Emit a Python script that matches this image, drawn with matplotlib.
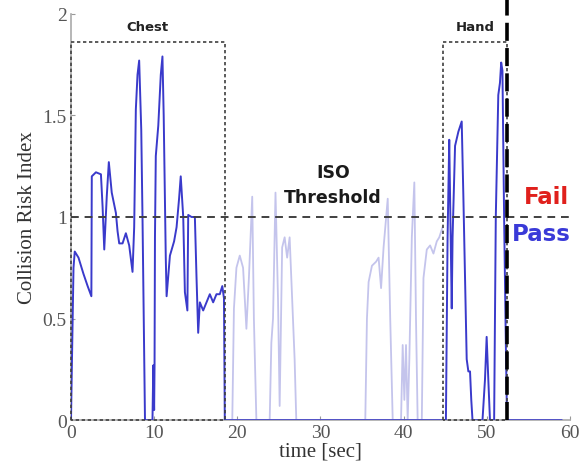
import matplotlib
matplotlib.use("Agg")
import matplotlib.pyplot as plt

# Collision risk index over time (dark: contact phases, light: free motion)
dark_t = [0, 0.15, 0.3, 0.45, 0.9, 1.5, 2.0, 2.45, 2.5, 3.0, 3.6, 3.8, 4.0, 4.3, 4.55, 4.9, 5.4, 5.6,
          5.8, 6.2, 6.6, 7.0, 7.4, 7.6, 7.8, 8.0, 8.2, 8.45, 8.6, 8.9, 9.8, 9.9, 10.0, 10.05, 10.1,
          10.2, 10.5, 10.8, 11.0, 11.15, 11.4, 11.5, 11.9, 12.4, 12.7, 13.0, 13.2, 13.5, 13.7,
          14.0, 14.1, 14.5, 14.9, 15.1, 15.3, 15.5, 15.9, 16.3, 16.7, 17.1, 17.5, 17.9, 18.2,
          18.4, 18.5,
          44.8, 45.1, 45.3, 45.5, 45.6, 45.8, 45.9, 46.2, 46.6, 47.0, 47.2, 47.4, 47.6, 47.8, 48.0,
          48.15, 48.3, 49.5, 49.8, 50.0, 50.2, 50.4, 50.9, 51.1, 51.4, 51.6, 51.75, 51.9, 52.1,
          52.3, 52.45, 59.0]
dark_v = [0, 0.38, 0.75, 0.83, 0.8, 0.72, 0.66, 0.61, 1.2, 1.22, 1.21, 1.05, 0.84, 1.1, 1.27, 1.12,
          1.02, 0.93, 0.87, 0.87, 0.92, 0.86, 0.73, 0.95, 1.53, 1.7, 1.77, 1.43, 1.0, 0, 0, 0.27,
          0.05, 0.27, 0.9, 1.3, 1.45, 1.7, 1.79, 1.5, 0.8, 0.61, 0.81, 0.88, 0.95, 1.09, 1.2, 1.0,
          0.63, 0.54, 1.01, 1.0, 1.0, 0.7, 0.43, 0.58, 0.54, 0.58, 0.62, 0.58, 0.62, 0.62, 0.66,
          0.6, 0,
          0, 0, 0.9, 1.38, 1.1, 0.55, 0.9, 1.35, 1.42, 1.47, 1.1, 0.7, 0.3, 0.24, 0.24, 0.1, 0, 0,
          0.2, 0.41, 0.2, 0, 0, 1.0, 1.6, 1.66, 1.76, 1.72, 1.0, 0.4, 0, 0]

light_t = [18.5, 19.4, 19.6, 19.9, 20.3, 20.7, 21.1, 21.4, 21.8, 22.0, 22.3, 23.9, 24.1, 24.3,
           24.6, 24.9, 25.1, 25.4, 25.7, 26.0, 26.3, 26.6, 26.9, 27.1, 35.4, 35.6, 35.8, 36.2,
           36.7, 37.0, 37.3, 37.6, 38.1, 38.4, 38.7, 39.7, 39.9, 40.1, 40.3, 40.5, 40.7, 41.0,
           41.3, 41.5, 41.7, 42.2, 42.4, 42.8, 43.2, 43.6, 44.0, 44.3, 44.7]
light_v = [0, 0, 0.55, 0.75, 0.81, 0.75, 0.45, 0.7, 1.1, 0.5, 0, 0, 0.38, 0.5, 1.12, 0.6, 0.07,
           0.85, 0.9, 0.8, 0.9, 0.6, 0.3, 0, 0, 0.5, 0.68, 0.76, 0.78, 0.8, 0.65, 0.85, 1.09, 0.5,
           0, 0, 0.37, 0.1, 0.37, 0, 0.3, 0.9, 1.17, 0.5, 0, 0, 0.7, 0.84, 0.86, 0.82, 0.88, 0.9,
           0.95]

threshold = 1.0
regions = [("Chest", 0.0, 18.5), ("Hand", 44.8, 52.4)]
region_top = 1.86
cutoff_t = 52.5
x_ticks = [0, 10, 20, 30, 40, 50, 60]
y_ticks = [0, 0.5, 1, 1.5, 2]
y_tick_labels = ["0", "0.5", "1", "1.5", "2"]

serif = ["Liberation Serif", "DejaVu Serif"]
sans = ["DejaVu Sans"]

fig = plt.figure(figsize=(5.82, 4.77), dpi=100)
ax = fig.add_axes([0.122, 0.117, 0.857, 0.852])

ax.plot(light_t, light_v, color="#c4c4ec", lw=1.3, zorder=2)
ax.plot(dark_t, dark_v, color="#3a3acb", lw=1.4, zorder=3)

# ISO threshold line
ax.axhline(threshold, color="#404040", lw=1.4, ls=(0, (4, 3)), zorder=4)

# Region boxes
for name, t0, t1 in regions:
    ax.plot([t0, t0, t1, t1, t0], [0, region_top, region_top, 0, 0],
            color="#404040", lw=1.2, ls=(0, (2, 1.6)), zorder=4, clip_on=False)
    ax.text((t0 + t1) / 2, 1.935, name, ha="center", va="center",
            fontsize=9.5, fontweight="bold", family=sans, color="#222222")

# Pass/fail cutoff
ax.plot([cutoff_t, cutoff_t], [0, 2.08], color="black", lw=2.6,
        ls=(0, (5, 2)), zorder=5, clip_on=False)

ax.text(31.5, 1.22, "ISO", ha="center", va="center", fontsize=12.5,
        fontweight="bold", family=sans, color="#1a1a1a")
ax.text(31.5, 1.10, "Threshold", ha="center", va="center", fontsize=12.5,
        fontweight="bold", family=sans, color="#1a1a1a")
ax.text(57.2, 1.10, "Fail", ha="center", va="center", fontsize=16.5,
        fontweight="bold", family=sans, color="#e0201c")
ax.text(56.6, 0.92, "Pass", ha="center", va="center", fontsize=16.5,
        fontweight="bold", family=sans, color="#3a3ad8")

ax.set_xlim(0, 60)
ax.set_ylim(0, 2)
ax.set_xticks(x_ticks)
ax.set_yticks(y_ticks)
ax.set_yticklabels(y_tick_labels)
for lab in ax.get_xticklabels() + ax.get_yticklabels():
    lab.set_family(serif)
    lab.set_fontsize(14)
    lab.set_color("#555555")
ax.tick_params(direction="in", length=3, color="#999999", pad=3)

for side in ("top", "right"):
    ax.spines[side].set_visible(False)
for side in ("left", "bottom"):
    ax.spines[side].set_color("#aaaaaa")
    ax.spines[side].set_linewidth(1.2)

ax.set_xlabel("time [sec]", family=serif, fontsize=15, color="#333333", labelpad=0)
ax.set_ylabel("Collision Risk Index", family=serif, fontsize=15, color="#333333", labelpad=4)

fig.savefig("out.png", dpi=100)
